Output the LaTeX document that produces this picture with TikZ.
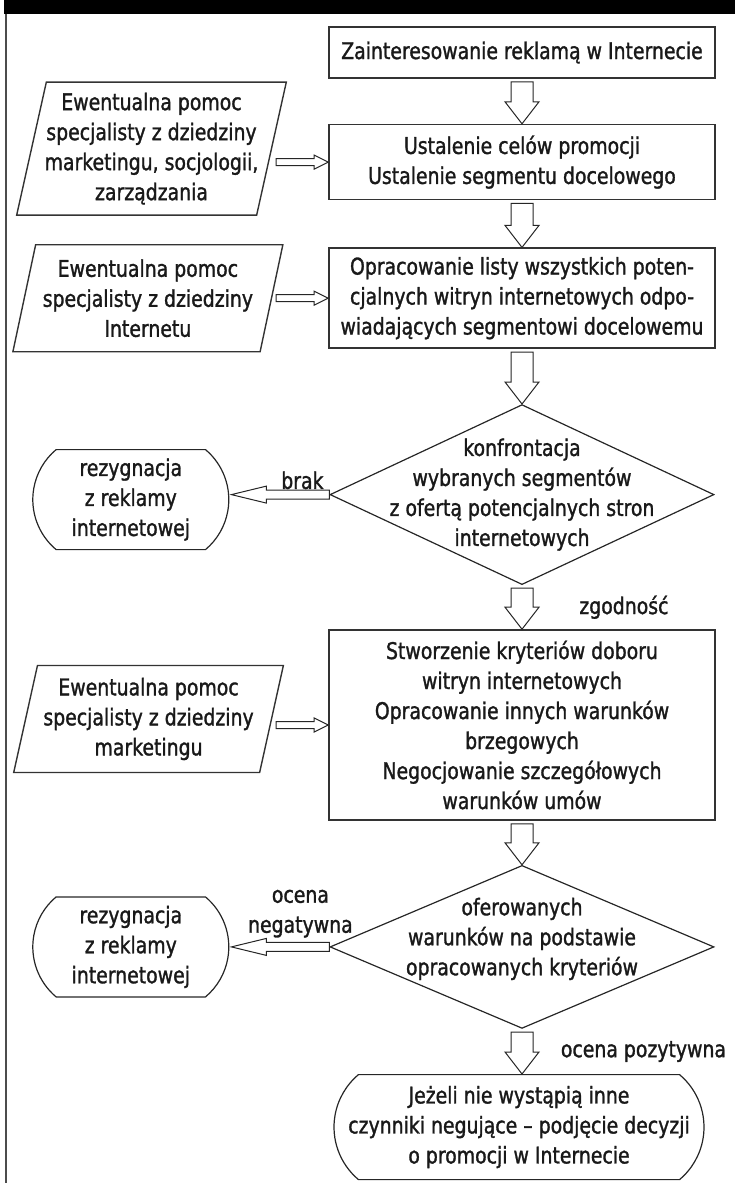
\documentclass[tikz,border=0pt]{standalone}
\usepackage{fontspec}
\setmainfont{DejaVu Sans}[FakeStretch=0.82,FakeBold=1.3]
\usetikzlibrary{positioning,calc,shapes.geometric,shapes.misc}
\tikzset{
  txt/.style={font=\fontsize{11.5}{15}\selectfont, align=center, text=black!90},
  box/.style={txt, draw=black!80, line width=0.8pt, minimum width=193pt, inner sep=2pt},
  io/.style={txt, draw=black!80, line width=0.7pt, trapezium, trapezium left angle=77,
             trapezium right angle=103, trapezium stretches=true, minimum width=135pt,
             inner xsep=-6pt, inner ysep=1pt},
  decision/.style={draw=black!85, line width=0.6pt, diamond, minimum width=192pt, inner sep=0pt},
  endbox/.style={txt, draw=black!85, line width=0.6pt, rounded rectangle, rounded rectangle arc length=100,
                 minimum width=100pt, minimum height=50pt, inner sep=1pt},
  lbl/.style={txt, inner sep=1pt},
  hollow/.style={draw=black!85, line width=0.5pt, fill=white},
}
% hollow block arrows between named nodes
\newcommand{\arrdown}[2]{%
  \draw[hollow] let \p1=(#1.south), \p2=(#2.north) in
    (\x1-5.5pt,\y1-1.5pt) -- (\x1+5.5pt,\y1-1.5pt) -- (\x1+5.5pt,\y2+11pt) -- (\x1+8.5pt,\y2+11pt)
    -- (\x1,\y2) -- (\x1-8.5pt,\y2+11pt) -- (\x1-5.5pt,\y2+11pt) -- cycle;}
\newcommand{\arrright}[2]{%
  \draw[hollow] let \p1=(#1.east), \p2=(#2.west) in
    (\x1+2pt,\y2+1.75pt) -- (\x2-7pt,\y2+1.75pt) -- (\x2-7pt,\y2+3.5pt) -- (\x2,\y2)
    -- (\x2-7pt,\y2-3.5pt) -- (\x2-7pt,\y2-1.75pt) -- (\x1+2pt,\y2-1.75pt) -- cycle;}
\newcommand{\arrleft}[2]{%
  \draw[hollow] let \p1=(#1.west), \p2=(#2.east) in
    (\x1,\y1+2.25pt) -- (\x2+18.5pt,\y1+2.25pt) -- (\x2+18.5pt,\y1+4.25pt) -- (\x2+1pt,\y1)
    -- (\x2+18.5pt,\y1-4.25pt) -- (\x2+18.5pt,\y1-2.25pt) -- (\x1,\y1-2.25pt) -- cycle;}

\begin{document}
\begin{tikzpicture}[x=0.5pt, y=-0.5pt]
  \useasboundingbox (0,0) rectangle (735,1183);
  \fill[black] (4,0) rectangle (735,14);
  \draw[line width=0.75pt, black!70] (6,14) -- (6,1183);

  % main column
  \node[box, minimum height=25.5pt] (b1) at (522,52.5) {Zainteresowanie reklamą w Internecie};
  \node[box, below=22.5pt of b1, minimum height=37.5pt] (b2) {Ustalenie celów promocji\\Ustalenie segmentu docelowego};
  \node[box, below=23.5pt of b2, minimum height=50pt] (b3) {Opracowanie listy wszystkich poten-\\cjalnych witryn internetowych odpo-\\wiadających segmentowi docelowemu};
  \node[decision, below=27.5pt of b3, minimum height=90pt] (d1) {};
  \node[txt] (d1t) at (d1) {konfrontacja\\wybranych segmentów\\z ofertą potencjalnych stron\\internetowych};
  \node[box, below=22pt of d1, minimum height=95pt] (b4) {Stworzenie kryteriów doboru\\witryn internetowych\\Opracowanie innych warunków\\brzegowych\\Negocjowanie szczegółowych\\warunków umów};
  \node[decision, below=22pt of b4, minimum height=81.5pt] (d2) {};
  \node[txt, yshift=4pt] (d2t) at (d2) {oferowanych\\warunków na podstawie\\opracowanych kryteriów};
  \node[endbox, below=22.5pt of d2, xshift=-1.5pt, minimum width=187pt, minimum height=52.5pt] (fin) {Jeżeli nie wystąpią inne\\czynniki negujące – podjęcie decyzji\\o promocji w Internecie};

  % left column
  \node[io, left=28pt of b2, yshift=6.75pt, minimum height=66.5pt] (p1) {Ewentualna pomoc\\specjalisty z dziedziny\\marketingu, socjologii,\\zarządzania};
  \node[io, left=28pt of b3, minimum height=53.5pt] (p2) {Ewentualna pomoc\\specjalisty z dziedziny\\Internetu};
  \node[io, left=28pt of b4, yshift=3pt, minimum height=53.5pt] (p3) {Ewentualna pomoc\\specjalisty z dziedziny\\marketingu};
  \node[endbox, left=50pt of d1, yshift=-2.5pt] (rez1) {rezygnacja\\z reklamy\\internetowej};
  \node[endbox, left=50pt of d2] (rez2) {rezygnacja\\z reklamy\\internetowej};

  % labels
  \node[lbl, anchor=south] (brak) at ($(d1.west)+(-27,-3)$) {brak};
  \node[lbl, anchor=south] (neg) at ($(d2.west)+(-29,-7)$) {ocena\\negatywna};
  \node[lbl, anchor=west] (zg) at ($(d1.south)!0.5!(b4.north)+(55,0)$) {zgodność};
  \node[lbl, anchor=west] (pos) at ($(d2.south)!0.5!(fin.north)+(38,0)$) {ocena pozytywna};

  \arrdown{b1}{b2}\arrdown{b2}{b3}\arrdown{b3}{d1}
  \arrdown{d1}{b4}\arrdown{b4}{d2}\arrdown{d2}{fin}
  \arrright{p1}{b2}\arrright{p2}{b3}\arrright{p3}{b4}
  \arrleft{d1}{rez1}\arrleft{d2}{rez2}
\end{tikzpicture}
\end{document}
